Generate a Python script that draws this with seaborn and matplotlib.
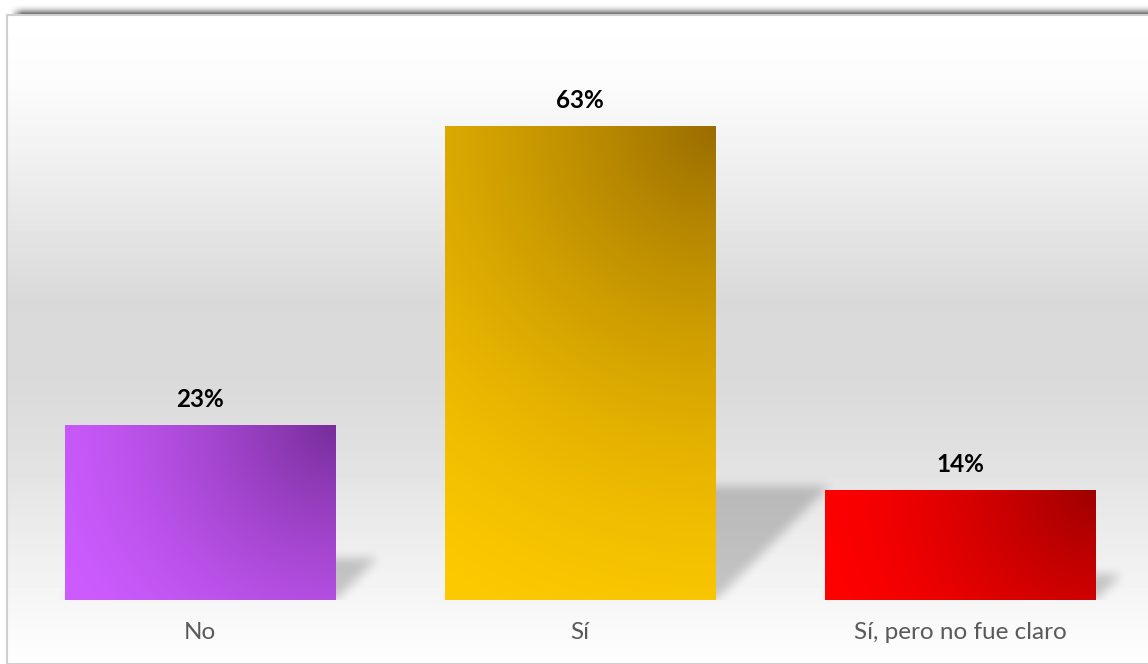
import numpy as np
import matplotlib
matplotlib.use("Agg")
import matplotlib.pyplot as plt
import seaborn as sns
from matplotlib.colors import to_rgb
from matplotlib.patches import Rectangle

# %%
categories = ["No", "Sí", "Sí, pero no fue claro"]
values = [23.3, 63.0, 14.6]
value_labels = ["23%", "63%", "14%"]
light_colors = ["#cd5cff", "#fdc900", "#ff0000"]
dark_colors = ["#772d9a", "#9a6d00", "#9e0000"]

W, H = 1148, 664
sns.set_theme(style="white")
plt.rcParams["font.family"] = ["Lato", "DejaVu Sans"]

fig = plt.figure(figsize=(W / 100, H / 100), dpi=100)
fig.patch.set_facecolor("white")

# %%
# chart area: soft vertical grey gradient
bg = fig.add_axes([7 / W, 0, 1 - 7 / W, (H - 15) / H], zorder=0)
grad_y = [15, 80, 150, 200, 300, 380, 450, 520, 580, 640, 664]
grad_c = [255, 252, 242, 233, 217, 218, 224, 234, 243, 251, 254]
rows = np.interp(np.arange(15, 664), grad_y, grad_c) / 255
bg.imshow(np.repeat(rows[:, None], 2, axis=1), cmap="gray", vmin=0, vmax=1,
          aspect="auto", extent=[0, 1, 0, 1])
bg.set_axis_off()
fig.patches.append(Rectangle((7 / W, 0), 1, (H - 15) / H, transform=fig.transFigure,
                             fill=False, edgecolor="#d0d0d0", lw=1.5, zorder=5))

# blurred shadow along the top edge of the frame
top = fig.add_axes([8 / W, (H - 15) / H, 1 - 8 / W, 12 / H], zorder=1)
va = (np.arange(12) / 11.0) ** 2.0 * 0.66
ha = np.clip((np.arange(1140) - 2) / 12.0, 0, 1)
band = np.zeros((12, 1140, 4))
band[..., 3] = va[:, None] * ha[None, :]
top.imshow(band, aspect="auto", extent=[0, 1, 0, 1], interpolation="bilinear")
top.set_axis_off()

# %%
ax = fig.add_axes([10 / W, 64 / H, 1138 / W, 580 / H], zorder=2)
ax.patch.set_alpha(0)
sns.barplot(x=categories, y=values, hue=categories, palette=light_colors,
            width=0.713, legend=False, ax=ax)
xmin, xmax = -0.5, -0.5 + 1138 / 380
ymax = 580 / 7.52
ax.set_xlim(xmin, xmax)
ax.set_ylim(0, ymax)

px_x = 1138 / (xmax - xmin)
px_y = 580 / ymax

# perspective shadows behind the bars
gx, gy = np.meshgrid(np.arange(1138) + 0.5, np.arange(580) + 0.5)
mask = np.zeros_like(gx)
for patch in ax.patches:
    x0 = (patch.get_x() - xmin) * px_x
    x1 = x0 + patch.get_width() * px_x
    sh = 0.24 * patch.get_height() * px_y
    m = (gy <= sh) & (gx - gy >= x0) & (gx - gy <= x1)
    mask[m] = 1.0
k = np.exp(-0.5 * (np.arange(-15, 16) / 5.0) ** 2)
k /= k.sum()
mask = np.apply_along_axis(lambda r: np.convolve(r, k, mode="same"), 1, mask)
mask = np.apply_along_axis(lambda c: np.convolve(c, k, mode="same"), 0, mask)
shadow = np.zeros((580, 1138, 4))
shadow[..., 3] = mask * 0.2
ax.imshow(shadow, origin="lower", extent=[xmin, xmax, 0, ymax], aspect="auto", zorder=0.5)

# gradient fill radiating from the top-right corner of each bar
for patch, lc, dc in zip(ax.patches, light_colors, dark_colors):
    x0, w, h = patch.get_x(), patch.get_width(), patch.get_height()
    wp, hp = w * px_x, h * px_y
    X, Y = np.meshgrid(np.linspace(0, wp, 200), np.linspace(hp, 0, 200))
    r = np.hypot(wp - X, hp - Y) / np.hypot(wp, hp)
    t = (1 - r) ** 1.55
    c0, c1 = np.array(to_rgb(lc)), np.array(to_rgb(dc))
    img = c0 + (c1 - c0) * t[..., None]
    im = ax.imshow(img, extent=[x0, x0 + w, 0, h], aspect="auto", zorder=1.5)
    im.set_clip_path(patch)
    patch.set_edgecolor("none")

ax.set_xlim(xmin, xmax)
ax.set_ylim(0, ymax)

for patch, lab in zip(ax.patches, value_labels):
    ax.annotate(lab, (patch.get_x() + patch.get_width() / 2, patch.get_height()),
                xytext=(0, 13), textcoords="offset points", ha="center", va="baseline",
                fontsize=17.5, fontweight="bold", color="black")

sns.despine(ax=ax, left=True, bottom=True)
ax.set_yticks([])
ax.tick_params(axis="x", length=0, pad=16, labelsize=17.5, labelcolor="#595959")
ax.set_xlabel("")
ax.set_ylabel("")

fig.savefig("out.png", dpi=100)
